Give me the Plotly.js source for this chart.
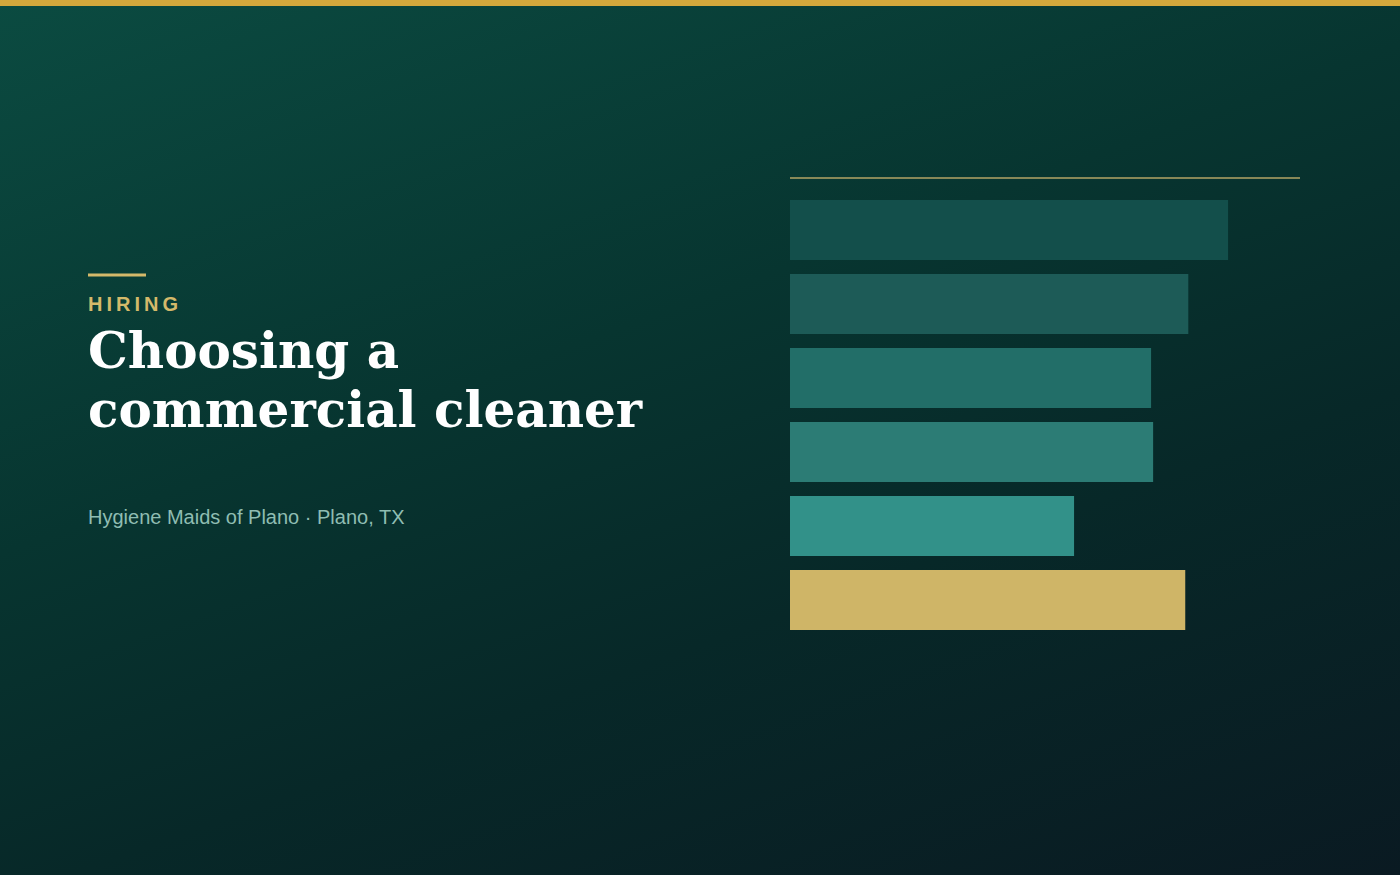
<!DOCTYPE html>
<html>
<head>
<meta charset="utf-8">
<script src="https://cdn.plot.ly/plotly-3.0.1.min.js"></script>
<style>
  html, body { margin: 0; padding: 0; }
  body {
    width: 1400px; height: 875px; overflow: hidden;
    background: linear-gradient(160deg, #0b4b41 0%, #073530 40%, #072828 65%, #0a1a22 100%);
  }
  #chart { width: 1400px; height: 875px; }
  .annotation[data-index="0"] text { letter-spacing: 4px; }
</style>
</head>
<body>
<div id="chart"></div>
<script>
// Bar data, top to bottom (no labels shown in the card)
const categories = ['c1', 'c2', 'c3', 'c4', 'c5', 'c6'];
const values = [85.9, 78.1, 70.8, 71.2, 55.7, 77.5];
const barColors = ['#134f4b', '#1d5b57', '#226e68', '#2c7c75', '#329189', '#cfb567'];

const kicker = 'HIRING';
const titleLines = ['Choosing a', 'commercial cleaner'];
const subtitle = 'Hygiene Maids of Plano · Plano, TX';

const W = 1400, H = 875;
const px = x => x / W;
const py = y => 1 - y / H;

const trace = {
    type: 'bar',
    orientation: 'h',
    y: categories,
    x: values,
    marker: {color: barColors, line: {width: 0}},
    hoverinfo: 'none'
};

const serif = 'DejaVu Serif, Georgia, serif';
const sans = 'Liberation Sans, Arial, sans-serif';

const layout = {
    width: W,
    height: H,
    paper_bgcolor: 'rgba(0,0,0,0)',
    plot_bgcolor: 'rgba(0,0,0,0)',
    margin: {l: 0, r: 0, t: 0, b: 0},
    showlegend: false,
    bargap: 14 / 74,
    xaxis: {
        domain: [px(790), px(1300)],
        range: [0, 100],
        showgrid: false, zeroline: false, showticklabels: false, fixedrange: true
    },
    yaxis: {
        domain: [py(637), py(193)],
        autorange: 'reversed',
        showgrid: false, zeroline: false, showticklabels: false, fixedrange: true
    },
    shapes: [
        // gold stripe at the top
        {type: 'rect', xref: 'paper', yref: 'paper', x0: 0, x1: 1, y0: py(6), y1: 1,
         fillcolor: '#d4a83c', line: {width: 0}},
        // rule above the bars
        {type: 'line', xref: 'paper', yref: 'paper', x0: px(790), x1: px(1300), y0: py(178), y1: py(178),
         line: {color: '#b3a566', width: 1.5}},
        // short accent above the kicker
        {type: 'line', xref: 'paper', yref: 'paper', x0: px(88), x1: px(146), y0: py(275), y1: py(275),
         line: {color: '#d4b96a', width: 3}}
    ],
    annotations: [
        // letter-spaced via css, nudged right to compensate
        {xref: 'paper', yref: 'paper', x: px(98), y: py(304), xanchor: 'left', yanchor: 'middle',
         text: '<b>' + kicker + '</b>', showarrow: false,
         font: {family: sans, size: 20, color: '#d4b96a'}},
        {xref: 'paper', yref: 'paper', x: px(86), y: py(350), xanchor: 'left', yanchor: 'middle',
         text: '<b>' + titleLines[0] + '</b>', showarrow: false,
         font: {family: serif, size: 50, color: '#ffffff'}},
        {xref: 'paper', yref: 'paper', x: px(86), y: py(409), xanchor: 'left', yanchor: 'middle',
         text: '<b>' + titleLines[1] + '</b>', showarrow: false,
         font: {family: serif, size: 50, color: '#ffffff'}},
        {xref: 'paper', yref: 'paper', x: px(86), y: py(517), xanchor: 'left', yanchor: 'middle',
         text: subtitle, showarrow: false,
         font: {family: sans, size: 20, color: '#8fbdb2'}}
    ]
};

Plotly.newPlot('chart', [trace], layout, {displayModeBar: false, staticPlot: true});
</script>
</body>
</html>
